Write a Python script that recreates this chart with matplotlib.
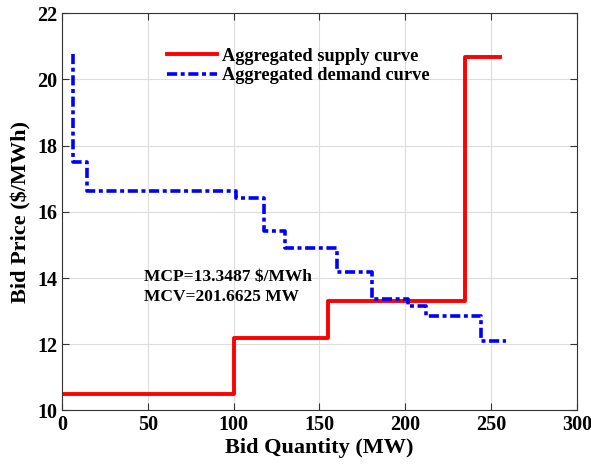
import matplotlib.pyplot as plt

plt.rcParams['font.family'] = 'Liberation Serif'
plt.rcParams['font.weight'] = 'bold'

# supply curve steps (MW, $/MWh)
supply_q = [0, 100, 155, 235, 255]
supply_p = [10.5, 12.2, 13.3, 20.68, 20.68]

# demand curve steps
demand_q = [6.5, 6.5, 14.5, 101.5, 117.5, 130, 160, 180.5, 201.7, 212, 244, 258.5]
demand_p = [20.78, 17.5, 16.64, 16.43, 15.43, 14.91, 14.17, 13.36, 13.16, 12.86, 12.1, 12.1]

mcp = 13.3487
mcv = 201.6625

fig = plt.figure(figsize=(5.91, 4.74), dpi=100)
ax = fig.add_axes([0.105, 0.134, 0.871, 0.838])

ax.step(supply_q, supply_p, where='post', color='red', lw=2.8,
        label='Aggregated supply curve')
ax.step(demand_q, demand_p, where='post', color='blue', lw=2.6,
        linestyle=(0, (2.8, 1.0, 1.1, 1.0)), label='Aggregated demand curve')

ax.text(48, 13.72, 'MCP=%.4f $/MWh\nMCV=%.4f MW' % (mcp, mcv),
        fontsize=12.5, fontweight='bold', va='center', linespacing=1.35)

ax.set_xlim(0, 300)
ax.set_ylim(10, 22)
ax.set_xticks(range(0, 301, 50))
ax.set_yticks(range(10, 23, 2))
ax.set_xlabel('Bid Quantity (MW)', fontsize=16, fontweight='bold', labelpad=2)
ax.set_ylabel('Bid Price ($/MWh)', fontsize=16, fontweight='bold', labelpad=4)
ax.tick_params(direction='in', top=True, right=True, labelsize=14.5, length=5,
               color='#333333')
for s in ax.spines.values():
    s.set_color('#333333')
ax.grid(True, color='#dddddd', lw=0.8)

ax.legend(loc='upper left', bbox_to_anchor=(0.204, 0.913), frameon=False,
          fontsize=13.2, handlelength=2.7, handletextpad=0.28,
          labelspacing=0.12, borderpad=0, borderaxespad=0)

fig.savefig('out.png', dpi=100)
